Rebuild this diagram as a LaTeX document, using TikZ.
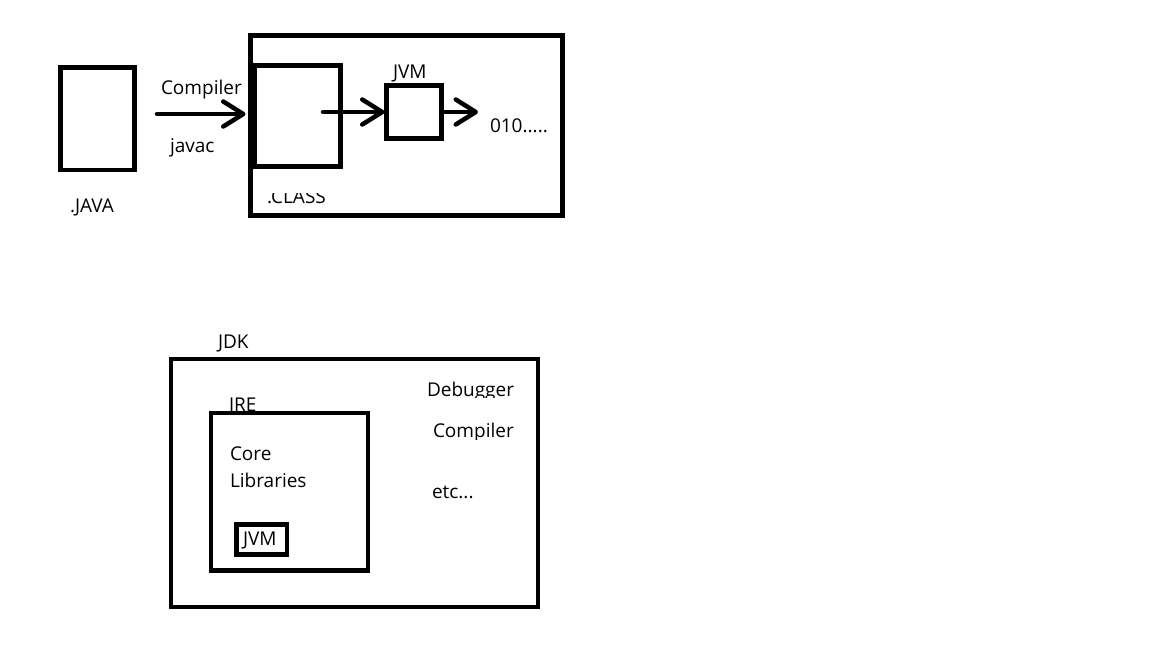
\documentclass[tikz,border=0pt]{standalone}
\usepackage{fontspec}
\setmainfont{Open Sans}
\usetikzlibrary{arrows.meta}
\begin{document}
\begin{tikzpicture}[x=1pt,y=-1pt,
  box/.style={draw=black,line width=4.5pt,rectangle,inner sep=0pt,outer sep=0pt,fill=none},
  lbl/.style={inner sep=0pt,outer sep=0pt,anchor=base west,font=\fontsize{19}{23}\selectfont},
  arr/.style={line width=4.5pt,line cap=round,
    -{Straight Barb[length=20pt,width=25pt,line cap=round,line join=round]}}]
% canvas
\fill[white] (0,0) rectangle (1152,648);
\useasboundingbox (0,0) rectangle (1152,648);

% --- compile and run pipeline ---
\node[box,minimum width=74pt,minimum height=102.5pt] (java) at (97.5,118.75) {};
\node[lbl] (javalbl) at (70,212) {.JAVA};

\node[box,minimum width=312pt,minimum height=180pt] (runtime) at (406.5,125.5) {};
\node[box,minimum width=86pt,minimum height=101pt] (classbox) at (297.5,116) {};
\begin{scope}
  \clip (255,193) rectangle (350,214);
  \node[lbl] (classlbl) at (267,203) {.CLASS};
\end{scope}

\node[box,minimum width=55pt,minimum height=53pt] (jvmtop) at (414,112) {};
\node[lbl] (jvmtoplbl) at (393,78) {JVM};

\coordinate (a1s) at (157,114);
\coordinate (a2s) at (323,112);
\coordinate (a3e) at (478,112);

\draw[arr,shorten >=9pt] (a1s) -- (classbox.west |- a1s);
\node[lbl] (compilerlbl) at (161,94) {Compiler};
\node[lbl] (javaclbl) at (170,152) {javac};

\draw[arr,shorten >=2pt] (a2s) -- (jvmtop.west |- a2s);
\draw[arr] (jvmtop.east |- a3e) -- (a3e);
\node[lbl] (bits) at (490,132) {010.....};

% --- JDK contents ---
\node[lbl] (jdklbl) at (218,348) {JDK};
\node[box,minimum width=367pt,minimum height=248pt] (jdk) at (354.5,483) {};

\begin{scope}
  \clip (220,385) rectangle (270,410);
  \node[lbl] (jrelbl) at (229,411) {JRE};
\end{scope}
\node[box,minimum width=157pt,minimum height=157.5pt] (jre) at (289.5,491.75) {};

\node[lbl] (corelbl) at (230,460) {Core};
\node[lbl] (libslbl) at (230,487) {Libraries};

\node[box,minimum width=50.5pt,minimum height=30pt] (jvmbot) at (261.75,539.5) {};
\node[lbl] (jvmbotlbl) at (243,545) {JVM};

\begin{scope}
  \clip (420,370) rectangle (530,397);
  \node[lbl] (debuglbl) at (427,396) {Debugger};
\end{scope}
\begin{scope}
  \clip (420,410) rectangle (530,439);
  \node[lbl] (compbotlbl) at (433,437) {Compiler};
\end{scope}
\node[lbl] (etclbl) at (432,498) {etc...};
\end{tikzpicture}
\end{document}
